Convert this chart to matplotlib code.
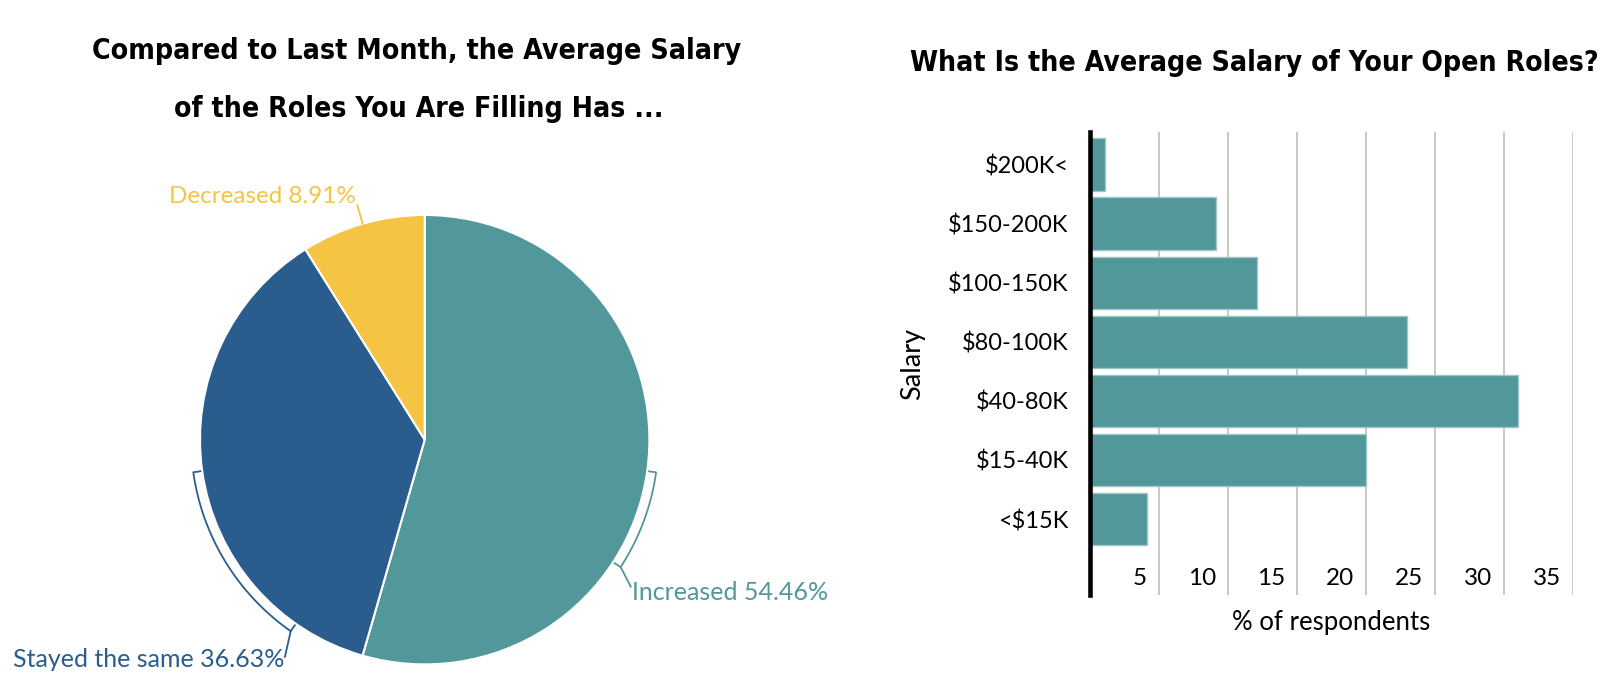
import numpy as np
import matplotlib.pyplot as plt
from matplotlib import font_manager as fm
from matplotlib.transforms import ScaledTranslation, blended_transform_factory

# pie: change in average salary vs last month
change_labels = ["Increased", "Stayed the same", "Decreased"]
change_pct = [54.46, 36.63, 8.91]
change_colors = ["#52979a", "#2a5d8d", "#f5c443"]

# bars: average salary of open roles (bottom to top)
salary_bands = ["<$15K", "$15-40K", "$40-80K", "$80-100K", "$100-150K", "$150-200K", "$200K<"]
salary_pct = [4.1, 20.0, 31.0, 23.0, 12.1, 9.1, 1.1]
x_ticks = [5, 10, 15, 20, 25, 30, 35]

# look for a narrow bold face for the titles, fall back to Roboto bold
title_prop = fm.FontProperties(family=["Roboto", "DejaVu Sans"], weight="bold")
for f in sorted(fm.fontManager.ttflist, key=lambda f: f.fname):
    n = (f.name + " " + f.fname).lower()
    narrow = str(f.stretch) in ("condensed", "semi-condensed", "extra-condensed") \
        or "condensed" in n or "narrow" in n
    bold = "bold" in f.fname.lower() and "italic" not in n and "oblique" not in n
    if narrow and bold:
        title_prop = fm.FontProperties(fname=f.fname)
        break

plt.rcParams["font.family"] = ["Lato", "DejaVu Sans"]

W, H = 1622, 676
fig = plt.figure(figsize=(W / 100, H / 100), dpi=100)
renderer = fig.canvas.get_renderer()

# Titles (size fitted to roughly the width they take in the original)
titles = [
    ("Compared to Last Month, the Average Salary", 416.5, 59, 601),
    ("of the Roles You Are Filling Has ...", 418.5, 116.7, 452),
    ("What Is the Average Salary of Your Open Roles?", 1254.5, 70.7, 637),
]
for txt, x, y, width in titles:
    t = fig.text(x / W, 1 - y / H, txt, ha="center", va="baseline",
                 fontproperties=title_prop, fontsize=24)
    w = t.get_window_extent(renderer).width
    t.set_fontsize(min(27, 1.08 * 24 * width / w))

# 1 Pie chart
cx, cy, R = 424.7, 439.7, 224.7
ax1 = fig.add_axes([0, 0, 2 * cx / W, 2 * (H - cy) / H])
ax1.pie(change_pct, colors=change_colors, startangle=90, counterclock=False,
        wedgeprops=dict(edgecolor="white", linewidth=1.5))
ax1.set_aspect("equal")
ax1.set_xlim(-cx / R, cx / R)
ax1.set_ylim(-(H - cy) / R, (H - cy) / R)

total = sum(change_pct)
cum = np.cumsum([0] + change_pct[:-1])
mid = [90 - 360 * (c + v / 2) / total for c, v in zip(cum, change_pct)]

def pol(r, a):
    a = np.radians(a)
    return r * np.cos(a), r * np.sin(a)

# bracket labels for the two big slices
brackets = {0: -25, 1: 47}
leader_end = {0: (0.917, -0.654), 1: (-0.622, -0.966)}
label_pos = {0: (0.921, -0.713, "left"), 1: (-0.626, -1.013, "right")}
for i, span in brackets.items():
    col = change_colors[i]
    a0, a1 = mid[i], mid[i] + span
    arc = np.linspace(a0, a1, 80)
    xs, ys = pol(1.04, arc)
    tx0, ty0 = pol(1.008, a0)
    tx1, ty1 = pol(1.008, a1)
    ex, ey = leader_end[i]
    ax1.plot(np.r_[tx0, xs, tx1], np.r_[ty0, ys, ty1], color=col, lw=1.3, clip_on=False)
    ax1.plot([xs[-1], ex], [ys[-1], ey], color=col, lw=1.3, clip_on=False)
    lx, ly, ha = label_pos[i]
    ax1.text(lx, ly, f"{change_labels[i]} {change_pct[i]:.2f}%", color=col,
             ha=ha, va="baseline", fontsize=18)

# small slice: straight leader
x0, y0 = pol(1.0, mid[2])
x1, y1 = pol(1.087, mid[2])
ax1.plot([x0, x1], [y0, y1], color=change_colors[2], lw=1.3, clip_on=False)
ax1.text(-0.3057, 1.052, f"{change_labels[2]} {change_pct[2]:.2f}%", color=change_colors[2],
         ha="right", va="baseline", fontsize=17.5)

# 2 Horizontal bar chart
ax2 = fig.add_axes([1090 / W, (H - 595) / H, (1573 - 1090) / W, (595 - 132.4) / H])
ypos = np.arange(len(salary_bands))
ax2.barh(ypos, salary_pct, height=0.89, color="#52979a", edgecolor="#9cc6c7",
         linewidth=1, zorder=2)
ax2.set_xlim(0, 35)
ax2.set_ylim(-1.286, 6.547)
ax2.set_xticks(x_ticks)
ax2.tick_params(axis="x", length=0, labelbottom=False)
ax2.set_yticks(ypos, salary_bands)
ax2.tick_params(axis="y", length=0, pad=15.5, labelsize=17)
ax2.grid(axis="x", color="#c8c8c8", linewidth=1.4, zorder=0)
ax2.set_axisbelow(True)
for s in ["top", "right", "bottom"]:
    ax2.spines[s].set_visible(False)
ax2.spines["left"].set_linewidth(3.3)
ax2.spines["left"].set_color("black")
ax2.spines["left"].set_zorder(3)

trans = blended_transform_factory(ax2.transData, ax2.transAxes) + \
    ScaledTranslation(-12 / 100, 0, fig.dpi_scale_trans)
for t in x_ticks:
    ax2.text(t, 0.0346, str(t), transform=trans, ha="right", va="center", fontsize=17.5)

ax2.set_xlabel("% of respondents", fontsize=18.5, labelpad=11)
ax2.set_ylabel("Salary", fontsize=19.5)
ax2.yaxis.set_label_coords(-0.342, 0.5)

plt.savefig("out.png", dpi=100)
